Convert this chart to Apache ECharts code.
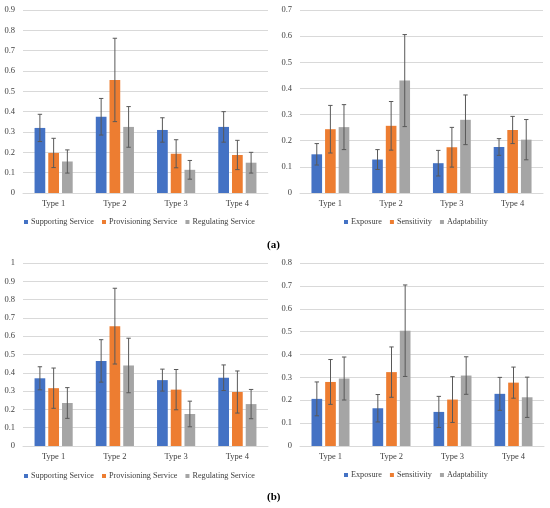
<!DOCTYPE html>
<html lang="en">
<head>
    <meta charset="UTF-8">
    <title>Service and vulnerability by type</title>
    <script src="https://cdn.jsdelivr.net/npm/echarts@6/dist/echarts.min.js"></script>
    <style>
        html, body { margin: 0; padding: 0; background: #fff; }
        #main { width: 550px; height: 508px; }
    </style>
</head>
<body>
<div id="main"></div>
<script>
    // categories and series names
    const categories = ['Type 1', 'Type 2', 'Type 3', 'Type 4'];
    const serviceNames = ['Supporting Service', 'Provisioning Service', 'Regulating Service'];
    const vulnNames = ['Exposure', 'Sensitivity', 'Adaptability'];

    // (a) services
    const aSupporting = [0.32, 0.375, 0.31, 0.325];
    const aSupportingErr = [0.067, 0.09, 0.06, 0.075];
    const aProvisioning = [0.197, 0.556, 0.193, 0.187];
    const aProvisioningErr = [0.072, 0.205, 0.069, 0.072];
    const aRegulating = [0.155, 0.325, 0.114, 0.149];
    const aRegulatingErr = [0.057, 0.1, 0.046, 0.051];

    // (a) vulnerability
    const aExposure = [0.148, 0.128, 0.114, 0.176];
    const aExposureErr = [0.041, 0.038, 0.049, 0.032];
    const aSensitivity = [0.244, 0.257, 0.175, 0.241];
    const aSensitivityErr = [0.091, 0.093, 0.076, 0.052];
    const aAdaptability = [0.252, 0.43, 0.28, 0.204];
    const aAdaptabilityErr = [0.086, 0.176, 0.095, 0.077];

    // (b) services
    const bSupporting = [0.37, 0.465, 0.36, 0.373];
    const bSupportingErr = [0.063, 0.116, 0.06, 0.07];
    const bProvisioning = [0.316, 0.655, 0.308, 0.295];
    const bProvisioningErr = [0.11, 0.207, 0.11, 0.115];
    const bRegulating = [0.235, 0.44, 0.175, 0.229];
    const bRegulatingErr = [0.084, 0.149, 0.07, 0.08];

    // (b) vulnerability
    const bExposure = [0.206, 0.165, 0.149, 0.228];
    const bExposureErr = [0.074, 0.06, 0.068, 0.072];
    const bSensitivity = [0.28, 0.323, 0.203, 0.277];
    const bSensitivityErr = [0.098, 0.11, 0.1, 0.068];
    const bAdaptability = [0.295, 0.504, 0.308, 0.213];
    const bAdaptabilityErr = [0.094, 0.2, 0.082, 0.088];

    // axis maxima
    const yMax = [0.9, 0.7, 1, 0.8];

    const colors = ['#4472C4', '#ED7D31', '#A5A5A5'];
    const FONT = '"Liberation Serif", serif';
    const BAR_PCT = 0.175;
    const GAP = 0.28;

    function barSeries(name, ax, vals, idx) {
        return {
            name: name,
            type: 'bar',
            xAxisIndex: ax,
            yAxisIndex: ax,
            data: vals,
            barWidth: (BAR_PCT * 100) + '%',
            barGap: (GAP * 100) + '%',
            itemStyle: { color: colors[idx] }
        };
    }

    // error bars drawn on top of the bars
    function errSeries(ax, vals, errs, idx) {
        return {
            name: 'err' + ax + '_' + idx,
            type: 'custom',
            xAxisIndex: ax,
            yAxisIndex: ax,
            z: 10,
            silent: true,
            data: vals.map((v, i) => [i, v - errs[i], v + errs[i]]),
            renderItem: function (params, api) {
                const band = api.size([1, 0])[0];
                const bw = band * BAR_PCT;
                const gap = bw * GAP;
                const off = -(3 * bw + 2 * gap) / 2 + bw / 2 + idx * (bw + gap);
                const lo = api.coord([api.value(0), api.value(1)]);
                const hi = api.coord([api.value(0), api.value(2)]);
                const x = lo[0] + off;
                const cap = 2.2;
                const st = { stroke: '#595959', lineWidth: 1 };
                return {
                    type: 'group',
                    children: [
                        { type: 'line', shape: { x1: x, y1: hi[1], x2: x, y2: lo[1] }, style: st },
                        { type: 'line', shape: { x1: x - cap, y1: hi[1], x2: x + cap, y2: hi[1] }, style: st },
                        { type: 'line', shape: { x1: x - cap, y1: lo[1], x2: x + cap, y2: lo[1] }, style: st }
                    ]
                };
            }
        };
    }

    const grids = [
        { left: 23, right: 282, top: 10, bottom: 315 },
        { left: 300, right: 7, top: 10, bottom: 315 },
        { left: 23, right: 282, top: 263, bottom: 62 },
        { left: 300, right: 6, top: 263, bottom: 62 }
    ];

    const xAxes = grids.map((g, i) => ({
        type: 'category',
        gridIndex: i,
        data: categories,
        axisTick: { show: false },
        axisLine: { lineStyle: { color: '#D9D9D9' } },
        axisLabel: { color: '#404040', fontFamily: FONT, fontSize: 8.5, margin: 6 }
    }));

    const yAxes = grids.map((g, i) => ({
        type: 'value',
        gridIndex: i,
        min: 0,
        max: yMax[i],
        interval: 0.1,
        axisLine: { show: false },
        axisTick: { show: false },
        splitLine: { lineStyle: { color: '#D9D9D9' } },
        axisLabel: { color: '#404040', fontFamily: FONT, fontSize: 8.5, margin: 8 }
    }));

    const groups = [
        [serviceNames, [aSupporting, aProvisioning, aRegulating], [aSupportingErr, aProvisioningErr, aRegulatingErr]],
        [vulnNames, [aExposure, aSensitivity, aAdaptability], [aExposureErr, aSensitivityErr, aAdaptabilityErr]],
        [serviceNames, [bSupporting, bProvisioning, bRegulating], [bSupportingErr, bProvisioningErr, bRegulatingErr]],
        [vulnNames, [bExposure, bSensitivity, bAdaptability], [bExposureErr, bSensitivityErr, bAdaptabilityErr]]
    ];

    let series = [];
    groups.forEach((grp, ax) => {
        for (let k = 0; k < 3; k++) {
            series.push(barSeries(grp[0][k], ax, grp[1][k], k));
        }
    });
    groups.forEach((grp, ax) => {
        for (let k = 0; k < 3; k++) {
            series.push(errSeries(ax, grp[1][k], grp[2][k], k));
        }
    });

    const legendPos = [[24, 218], [344, 218], [24, 472], [344, 471]];
    const legends = legendPos.map((p, i) => ({
        data: groups[i][0],
        left: p[0],
        top: p[1],
        padding: 0,
        icon: 'rect',
        itemWidth: 4,
        itemHeight: 4,
        itemGap: 8,
        selectedMode: false,
        textStyle: { color: '#404040', fontFamily: FONT, fontSize: 8.2, padding: [0, 0, 0, -2] }
    }));

    let myChart = echarts.init(document.getElementById('main'));
    let option = {
        animation: false,
        grid: grids,
        xAxis: xAxes,
        yAxis: yAxes,
        legend: legends,
        series: series,
        graphic: [
            { type: 'text', left: 267, top: 240, style: { text: '(a)', font: 'bold 11px ' + FONT, fill: '#000' } },
            { type: 'text', left: 267, top: 492, style: { text: '(b)', font: 'bold 11px ' + FONT, fill: '#000' } }
        ]
    };
    myChart.setOption(option);
</script>
</body>
</html>
